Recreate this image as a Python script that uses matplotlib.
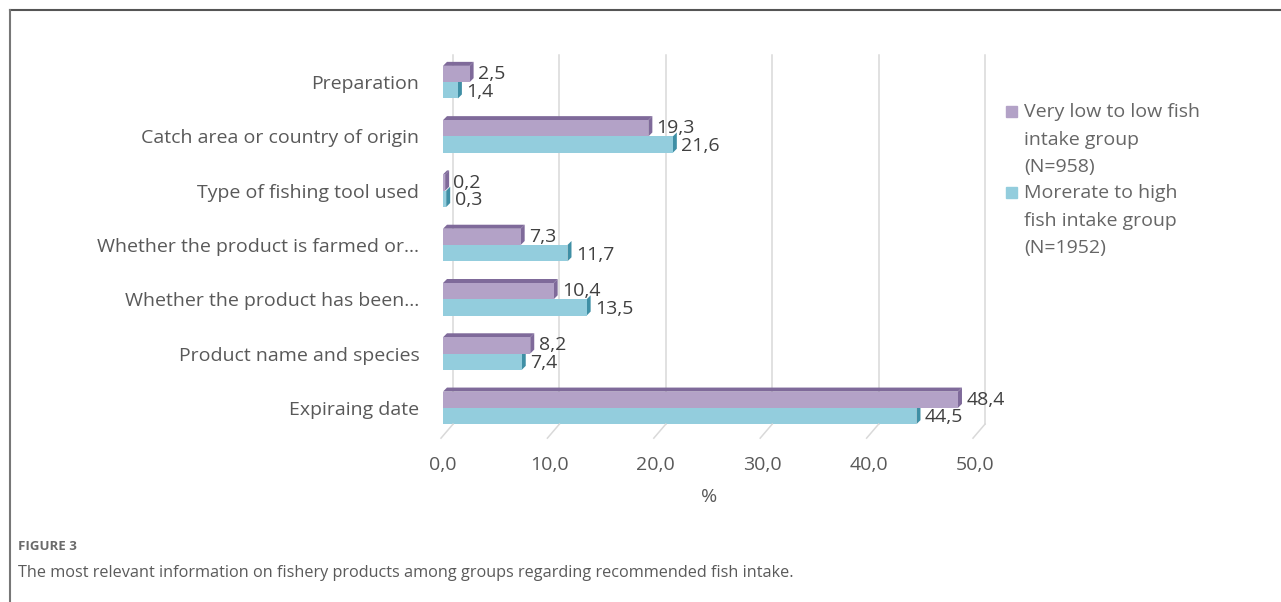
import matplotlib
matplotlib.use("Agg")
import matplotlib.pyplot as plt
import matplotlib.transforms as mtransforms
from matplotlib.lines import Line2D
from matplotlib.patches import Polygon, Rectangle

categories = ["Preparation", "Catch area or country of origin", "Type of fishing tool used",
              "Whether the product is farmed or...", "Whether the product has been...",
              "Product name and species", "Expiraing date"]
low_group = [2.5, 19.3, 0.2, 7.3, 10.4, 8.2, 48.4]
high_group = [1.4, 21.6, 0.3, 11.7, 13.5, 7.4, 44.5]
series_names = ["Very low to low fish\nintake group\n(N=958)",
                "Morerate to high\nfish intake group\n(N=1952)"]
xticks = [0, 10, 20, 30, 40, 50]
xtick_labels = ["0,0", "10,0", "20,0", "30,0", "40,0", "50,0"]

purple = "#b3a2c7"
purple_dark = "#7f6a9a"
cyan = "#93cddd"
cyan_dark = "#3f8fa5"
txt = "#595959"
FONT = "Open Sans"
FS = 14

W, H = 1281, 602
fig = plt.figure(figsize=(W / 100, H / 100), dpi=100)
fig.patch.set_facecolor("white")

ax = fig.add_axes([443 / W, 1 - 435 / H, 532 / W, 380 / H])
ax.set_xlim(0, 50)
ax.set_ylim(6.5, -0.5)
for s in ax.spines.values():
    s.set_visible(False)
ax.tick_params(length=0)

# gridlines (back wall, offset to right) with slanted floor feet
grid_tr = mtransforms.offset_copy(ax.transData, fig=fig, x=10, y=0, units="dots")
for xv in xticks:
    ax.plot([xv, xv], [6.3, -0.5], color="#d9d9d9", lw=1.1, transform=grid_tr, zorder=0, clip_on=False)
for xv in xticks:
    p0 = ax.transData.transform((xv, 6.3))
    x0, y0 = p0[0] + 10, p0[1]
    x1, y1 = p0[0] - 2, p0[1] - 14
    fig.add_artist(Line2D([x0 / W, x1 / W], [y0 / H, y1 / H], color="#d9d9d9", lw=1.1,
                          transform=fig.transFigure))

bh = 0.3
ypos = list(range(len(categories)))
ax.barh([y - bh / 2 for y in ypos], low_group, height=bh, color=purple, edgecolor="none", zorder=3)
ax.barh([y + bh / 2 for y in ypos], high_group, height=bh, color=cyan, edgecolor="none", zorder=3)

# pseudo 3D top & side faces
dx_px, dy_px = 4, 4
inv = ax.transData.inverted()
def dd(px, py):
    a = inv.transform((0, 0))
    b = inv.transform((px, py))
    return b[0] - a[0], b[1] - a[1]
ddx, ddy = dd(dx_px, dy_px)
for vals, yoff, dark in [(low_group, -bh, purple_dark), (high_group, 0, cyan_dark)]:
    for y, v in zip(ypos, vals):
        top = y + yoff
        bot = top + bh
        side = Polygon([(v, top), (v + ddx, top + ddy), (v + ddx, bot + ddy), (v, bot)],
                       closed=True, color=dark, zorder=2.9, lw=0)
        ax.add_patch(side)
        if yoff < 0:
            tp = Polygon([(0, top), (ddx, top + ddy), (v + ddx, top + ddy), (v, top)],
                         closed=True, color=dark, zorder=2.9, lw=0)
            ax.add_patch(tp)

for y, v in zip(ypos, low_group):
    ax.annotate(f"{v:.1f}".replace(".", ","), (v, y - bh / 2), xytext=(6, 0), textcoords="offset points",
                va="center", ha="left", fontsize=FS, color="#404040", family=FONT, zorder=5)
for y, v in zip(ypos, high_group):
    ax.annotate(f"{v:.1f}".replace(".", ","), (v, y + bh / 2), xytext=(6, -1), textcoords="offset points",
                va="center", ha="left", fontsize=FS, color="#404040", family=FONT, zorder=5)

ax.set_yticks(ypos)
ax.set_yticklabels(categories, fontsize=FS, color=txt, family=FONT)
ax.tick_params(axis="y", pad=17)
ax.set_xticks(xticks)
ax.set_xticklabels(xtick_labels, fontsize=FS, color=txt, family=FONT)
ax.tick_params(axis="x", pad=15)
ax.set_xlabel("%", fontsize=FS, color=txt, family=FONT, labelpad=10)

# legend
for i, (name, col) in enumerate(zip(series_names, [purple, cyan])):
    ytop = 112 + i * 81
    fig.add_artist(Rectangle(((1006) / W, 1 - (ytop + 5) / H), 11 / W, 11 / H, color=col,
                             transform=fig.transFigure))
    fig.text(1024 / W, 1 - (ytop - 9) / H, name, fontsize=FS, color="#666666", family=FONT,
             va="top", ha="left", linespacing=1.68)

# frame
fig.add_artist(Line2D([10 / W, 1], [1 - 10 / H, 1 - 10 / H], color="#555555", lw=1.5,
                      transform=fig.transFigure))
fig.add_artist(Line2D([10 / W, 10 / W], [0, 1 - 10 / H], color="#777777", lw=1.5,
                      transform=fig.transFigure))

fig.text(18 / W, 1 - 547 / H, "FIGURE 3", fontsize=9.5, color="#6b6b6b", family="Open Sans",
         weight="bold", va="center", ha="left")
fig.text(18 / W, 1 - 573 / H,
         "The most relevant information on fishery products among groups regarding recommended fish intake.",
         fontsize=11.7, color="#5a5a5a", family="Open Sans", va="center", ha="left")

fig.savefig("out.png", dpi=100, facecolor="white")
